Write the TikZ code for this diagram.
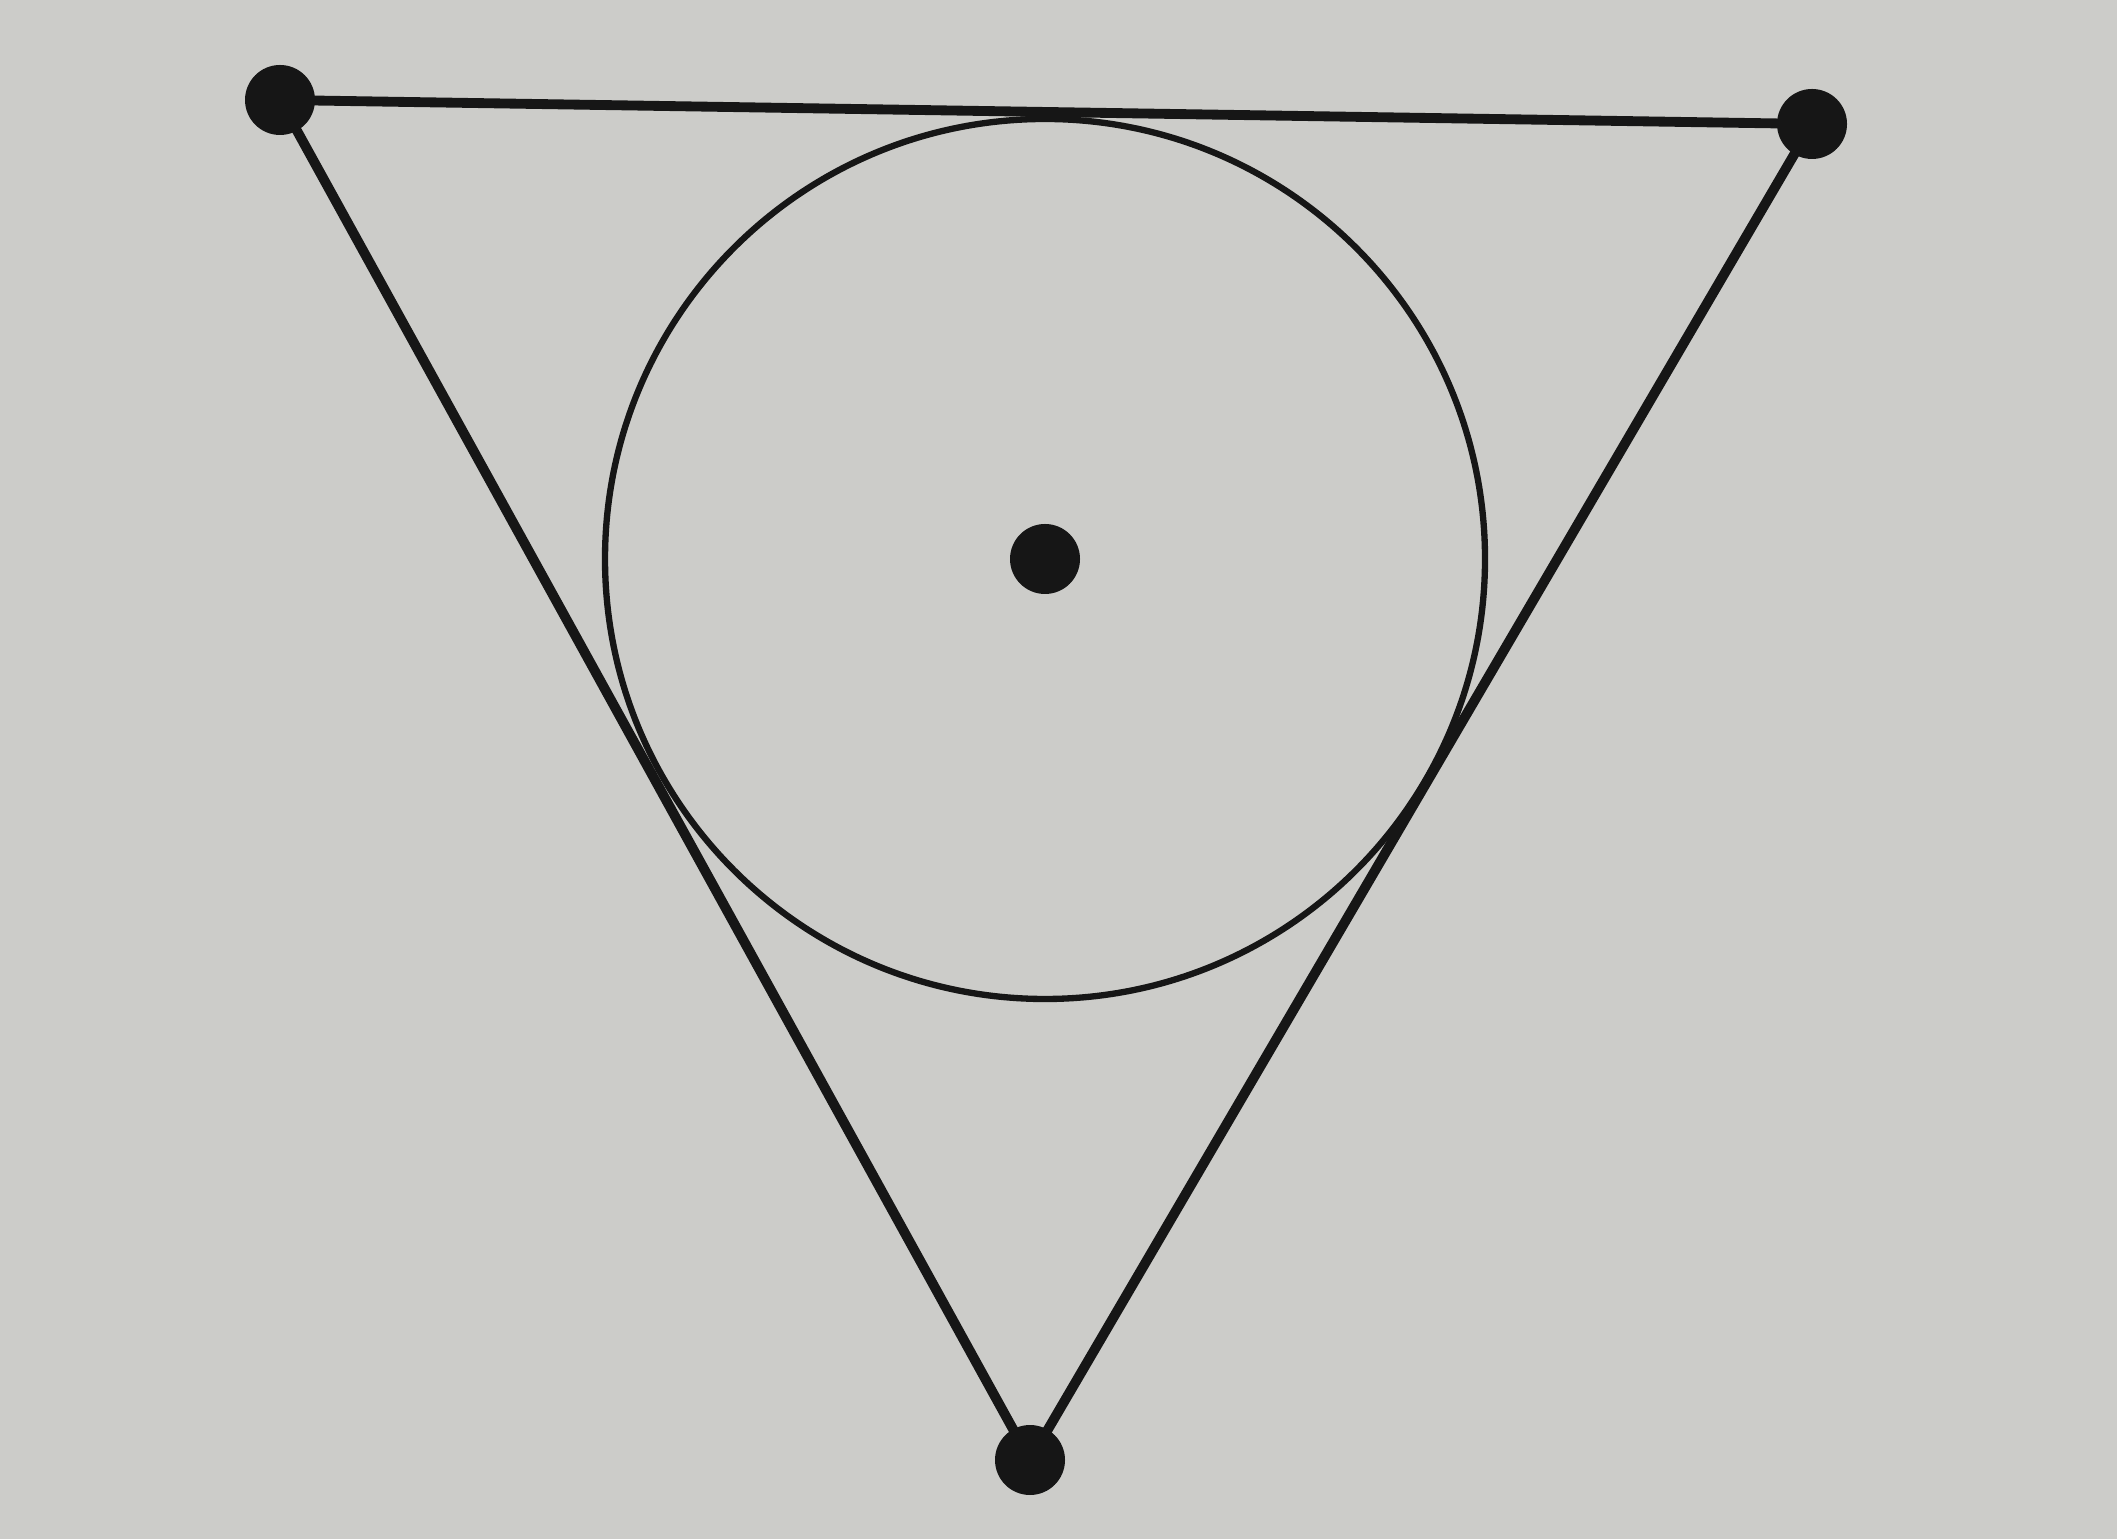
\documentclass[tikz,border=0pt]{standalone}
\usepackage{tikz}
\usepackage{xcolor}

\definecolor{paper}{RGB}{204,204,201}
\definecolor{ink}{RGB}{22,22,22}

\tikzset{
    vdot/.style={circle,fill=ink,inner sep=0pt,minimum size=0.70cm},
    side/.style={draw=ink,line width=2.8pt},
    incircle/.style={draw=ink,line width=1.8pt}
}

\begin{document}
\begin{tikzpicture}

        \fill [paper] (0,0) rectangle (21.17,15.39);
        \useasboundingbox (0,0) rectangle (21.17,15.39);

        \coordinate (A) at (2.80,14.39);
        \coordinate (B) at (18.12,14.15);
        \coordinate (C) at (10.30,0.79);
        \coordinate (O) at (10.45,9.80);

        \draw [incircle] (O) circle (4.40);
        \draw [side] (A) -- (B) -- (C) -- cycle;

        \node [vdot] (dA) at (A) {};
        \node [vdot] (dB) at (B) {};
        \node [vdot] (dC) at (C) {};
        \node [vdot] (dO) at (O) {};
    \end{tikzpicture}
\end{document}
